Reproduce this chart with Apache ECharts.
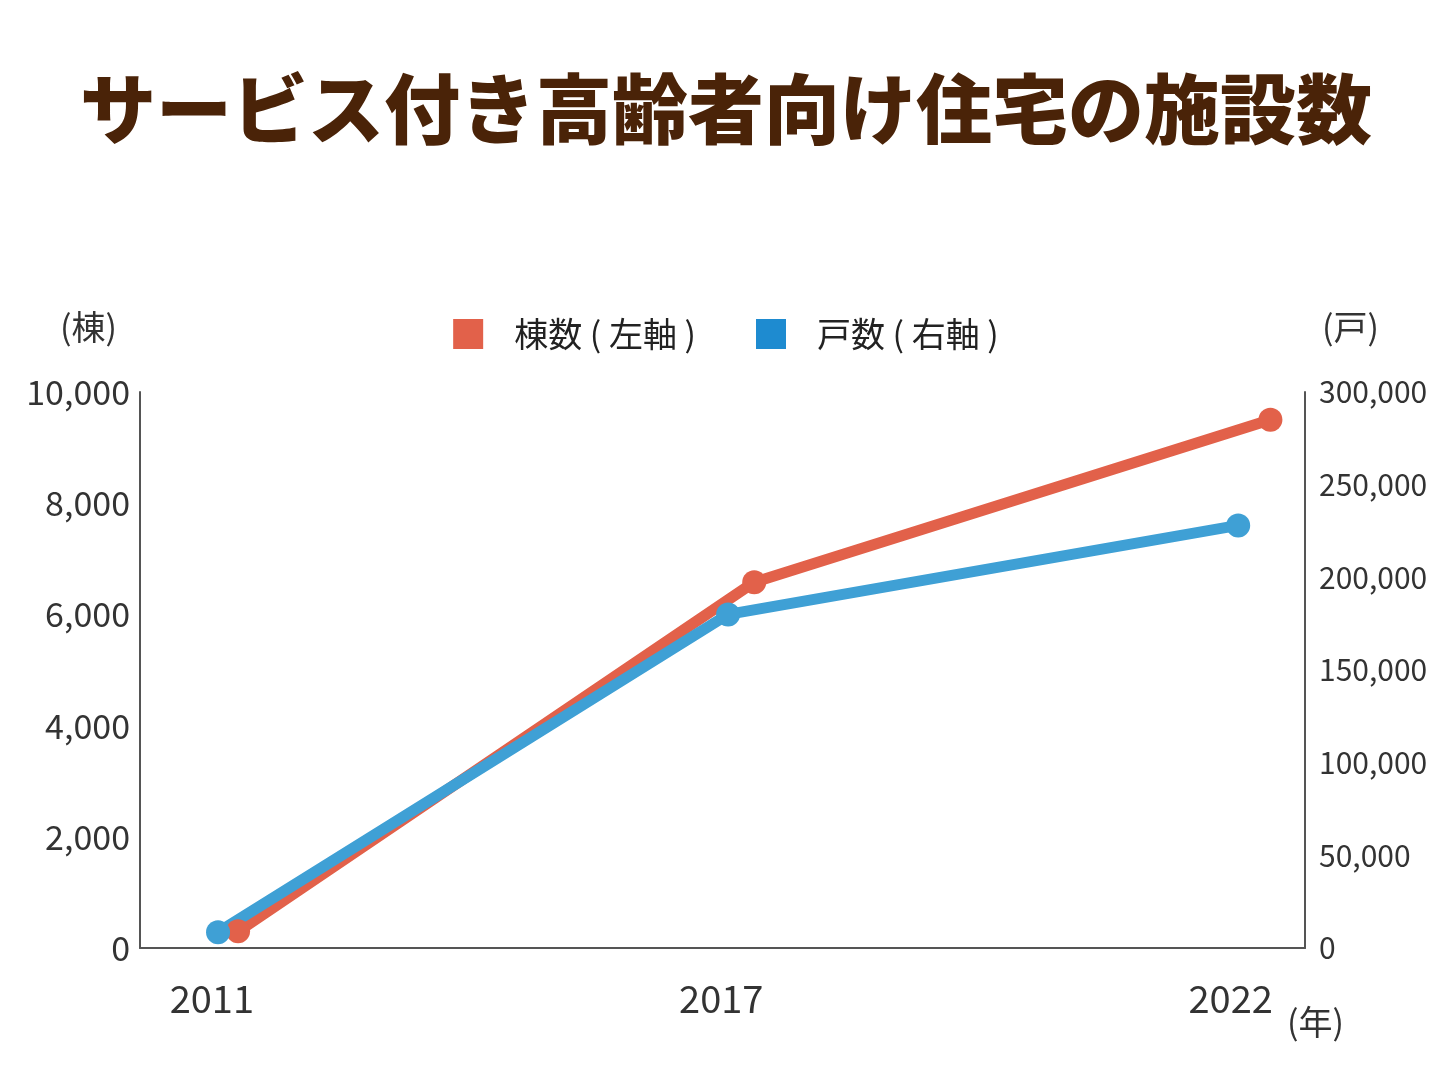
<!DOCTYPE html><html><head><meta charset="utf-8"><script src="https://cdn.jsdelivr.net/npm/echarts@6/dist/echarts.min.js"></script>
<style>html,body{margin:0;background:#fff}#c{width:1452px;height:1089px}</style></head><body><div id="c"></div><script>
const years=['2011','2017','2022'];
const buildings=[300,6580,9500];
const units=[8500,180000,228000];
const leftTicks=[0,2000,4000,6000,8000,10000];
const rightTicks=[0,50000,100000,150000,200000,250000,300000];
const F='"Noto Sans CJK JP","Noto Sans",sans-serif';
const fmt=v=>v.toLocaleString('en-US');
const c=echarts.init(document.getElementById('c'));
const hidX=(min,max)=>({type:'value',min,max,show:false});
c.setOption({
 title:{text:'サービス付き高齢者向け住宅の施設数',left:'center',top:66,textStyle:{fontFamily:F,fontSize:76,fontWeight:900,color:'#4a2308'}},
 legend:{top:312,left:'center',itemWidth:30,itemHeight:30,itemGap:60,icon:'rect',textStyle:{fontFamily:F,fontSize:34,color:'#222',padding:[0,0,0,26]},
  data:[{name:'棟数 ( 左軸 )',itemStyle:{color:'#e2614a'}},{name:'戸数 ( 右軸 )',itemStyle:{color:'#1e8bd0'}}]},
 grid:{left:140,right:147,top:392,bottom:141},
 xAxis:[{type:'value',min:-0.141,max:2.146,axisLine:{onZero:false,lineStyle:{color:'#555',width:2}},axisTick:{show:false},splitLine:{show:false},
   axisLabel:{customValues:[0,1,2],fontFamily:F,fontSize:38,color:'#333',margin:32,formatter:v=>years[Math.round(v)]||''}},
  hidX(-0.19,2.067),hidX(-0.153,2.131)],
 yAxis:[{type:'value',min:0,max:10000,interval:2000,axisLine:{show:true,onZero:false,lineStyle:{color:'#555',width:2}},splitLine:{show:false},axisTick:{show:false},
   axisLabel:{fontFamily:F,fontSize:34,color:'#333',margin:10,formatter:fmt}},
  {type:'value',min:0,max:300000,interval:50000,axisLine:{show:true,onZero:false,lineStyle:{color:'#555',width:2}},splitLine:{show:false},axisTick:{show:false},
   axisLabel:{fontFamily:F,fontSize:30,color:'#333',margin:14,formatter:fmt}}],
 series:[
  {name:'棟数 ( 左軸 )',type:'line',xAxisIndex:1,yAxisIndex:0,data:buildings.map((v,i)=>[i,v]),symbol:'circle',symbolSize:24,lineStyle:{width:11,color:'#e2614a'},itemStyle:{color:'#e2614a'}},
  {name:'戸数 ( 右軸 )',type:'line',xAxisIndex:2,yAxisIndex:1,data:units.map((v,i)=>[i,v]),symbol:'circle',symbolSize:24,lineStyle:{width:11,color:'#3fa0d5'},itemStyle:{color:'#3fa0d5'}}
 ],
 graphic:[
  {type:'text',left:60,top:310,style:{text:'(棟)',font:'34px '+F,fill:'#333'}},
  {type:'text',left:1322,top:310,style:{text:'(戸)',font:'34px '+F,fill:'#333'}},
  {type:'text',left:1287,top:1005,style:{text:'(年)',font:'34px '+F,fill:'#333'}}
 ]
});
</script></body></html>
